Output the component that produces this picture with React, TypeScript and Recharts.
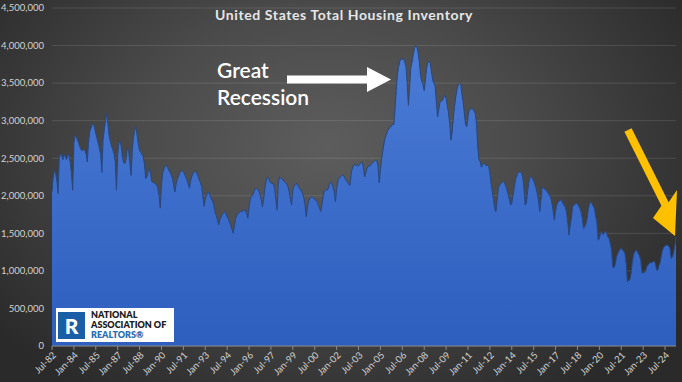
import { AreaChart, Area, XAxis, YAxis, CartesianGrid } from 'recharts';

// Existing-home inventory, thousands of homes, monthly from Jul-82 through Apr-25
const START_YEAR = 1982;
const START_MONTH = 6; // Jul

const inventory1980s = [
  2050, 2250, 2340, 2300, 2200, 2030,
  2500, 2560, 2540, 2480, 2550, 2520, 2480, 2550, 2540, 2450, 2300, 2075,
  2700, 2806, 2780, 2740, 2700, 2650, 2610, 2600, 2620, 2600, 2560, 2450,
  2700, 2850, 2900, 2940, 2970, 2900, 2830, 2760, 2700, 2630, 2550, 2310,
  2750, 2880, 3000, 3100, 2950, 2790, 2720, 2660, 2610, 2560, 2450, 2075,
  2550, 2700, 2730, 2650, 2500, 2440, 2430, 2500, 2640, 2600, 2450, 2270,
  2600, 2780, 2870, 2920, 2800, 2680, 2600, 2580, 2550, 2520, 2420, 2230,
  2250, 2320, 2370, 2300, 2190, 2180, 2170, 2160, 2140, 2100, 2000, 1835,
];

const inventory1990s = [
  2150, 2300, 2360, 2390, 2410, 2380, 2340, 2310, 2280, 2230, 2150, 2050,
  2150, 2220, 2260, 2300, 2330, 2340, 2320, 2290, 2250, 2210, 2160, 2100,
  2200, 2260, 2300, 2320, 2330, 2300, 2260, 2210, 2180, 2120, 2000, 1860,
  1950, 2010, 2040, 2050, 2000, 1960, 1930, 1880, 1790, 1740, 1680, 1610,
  1680, 1720, 1750, 1770, 1790, 1760, 1720, 1690, 1650, 1600, 1550, 1500,
  1600, 1700, 1740, 1760, 1780, 1790, 1790, 1800, 1810, 1800, 1760, 1700,
  1850, 1960, 1990, 2010, 2050, 2090, 2100, 2080, 2070, 2020, 1950, 1850,
  1950, 2100, 2200, 2250, 2240, 2190, 2170, 2165, 2160, 2100, 1950, 1810,
  2150, 2250, 2240, 2220, 2210, 2190, 2170, 2160, 2120, 2050, 1950, 1875,
  2080, 2130, 2150, 2165, 2140, 2110, 2090, 2060, 2030, 1980, 1880, 1720,
];

const inventory2000s = [
  1850, 1930, 1960, 1980, 1990, 1970, 1950, 1940, 1920, 1880, 1830, 1790,
  1900, 2000, 2070, 2080, 2075, 2090, 2150, 2185, 2170, 2120, 2050, 1920,
  2100, 2200, 2230, 2250, 2270, 2280, 2260, 2230, 2200, 2180, 2150, 2140,
  2300, 2370, 2400, 2420, 2410, 2400, 2400, 2420, 2440, 2450, 2380, 2250,
  2300, 2370, 2400, 2390, 2410, 2430, 2450, 2460, 2475, 2470, 2400, 2170,
  2350, 2500, 2600, 2700, 2780, 2820, 2870, 2890, 2910, 2930, 2950, 2950,
  3150, 3400, 3620, 3720, 3790, 3830, 3810, 3830, 3780, 3720, 3500, 3205,
  3450, 3700, 3780, 3880, 3960, 4000, 3980, 3900, 3780, 3600, 3520, 3480,
  3400, 3550, 3700, 3780, 3790, 3760, 3650, 3540, 3500, 3460, 3250, 3050,
  3150, 3250, 3260, 3270, 3310, 3340, 3300, 3200, 3100, 2950, 2740, 2850,
];

const inventory2010s = [
  3050, 3200, 3320, 3420, 3470, 3494, 3480, 3350, 3250, 3100, 2950, 2917,
  3050, 3140, 3150, 3160, 3160, 3120, 3095, 2950, 2650, 2474, 2460, 2380,
  2420, 2430, 2420, 2400, 2410, 2390, 2300, 2150, 2050, 1950, 1820, 1786,
  1950, 2100, 2141, 2160, 2185, 2190, 2170, 2130, 2080, 2020, 1950, 1875,
  1900, 2000, 2100, 2208, 2260, 2300, 2318, 2320, 2297, 2252, 2100, 1875,
  1900, 2050, 2180, 2252, 2250, 2230, 2200, 2150, 2100, 2030, 1930, 1786,
  1950, 2119, 2100, 2090, 2075, 2060, 2030, 2008, 1980, 1900, 1800, 1676,
  1800, 1880, 1919, 1930, 1942, 1940, 1900, 1875, 1850, 1780, 1650, 1476,
  1600, 1700, 1853, 1870, 1890, 1897, 1890, 1860, 1830, 1780, 1700, 1565,
  1590, 1630, 1700, 1830, 1897, 1920, 1890, 1860, 1830, 1720, 1640, 1409,
];

const inventory2020s = [
  1430, 1500, 1520, 1480, 1500, 1530, 1500, 1450, 1430, 1360, 1280, 1055,
  1040, 1080, 1180, 1230, 1260, 1290, 1299, 1280, 1260, 1230, 1100, 855,
  870, 880, 960, 1100, 1210, 1250, 1277, 1260, 1230, 1200, 1140, 967,
  980, 980, 1000, 1055, 1080, 1100, 1110, 1110, 1120, 1130, 1100, 1011,
  1010, 1070, 1110, 1210, 1277, 1320, 1330, 1343, 1343, 1330, 1300, 1166,
  1180, 1240, 1330, 1454,
];

const MONTHS = ['Jan', 'Feb', 'Mar', 'Apr', 'May', 'Jun', 'Jul', 'Aug', 'Sep', 'Oct', 'Nov', 'Dec'];
const Y_TICKS = [0, 500000, 1000000, 1500000, 2000000, 2500000, 3000000, 3500000, 4000000, 4500000];

const monthly = [...inventory1980s, ...inventory1990s, ...inventory2000s, ...inventory2010s, ...inventory2020s];

const data = monthly.map((v, i) => {
  const m = START_MONTH + i;
  const year = START_YEAR + Math.floor(m / 12);
  return {
    label: `${MONTHS[m % 12]}-${String(year).slice(2)}`,
    value: v * 1000,
  };
});

const FONT = "Lato, 'Open Sans', sans-serif";

const NarLogo = () => (
  <div
    style={{
      position: 'absolute',
      left: 56,
      top: 308,
      width: 118,
      height: 34,
      background: '#ffffff',
      fontFamily: FONT,
    }}
  >
    <svg width={27} height={27} style={{ position: 'absolute', left: 2, top: 4 }}>
      <rect x={0} y={0} width={27} height={27} fill="#1b5ea8" />
      <text x={13.5} y={21.5} textAnchor="middle" fill="#ffffff" fontSize={21} fontWeight={900} fontFamily={FONT}>
        R
      </text>
    </svg>
    <div
      style={{
        position: 'absolute',
        left: 35,
        top: 2,
        width: 82,
        fontSize: 9,
        fontWeight: 800,
        lineHeight: '9.8px',
        color: '#1c1c1c',
        whiteSpace: 'nowrap',
      }}
    >
      <div>NATIONAL</div>
      <div>ASSOCIATION OF</div>
      <div style={{ color: '#2a6db5' }}>REALTORS®</div>
    </div>
  </div>
);

const Annotations = () => (
  <svg width={682} height={382} style={{ position: 'absolute', left: 0, top: 0, pointerEvents: 'none' }}>
    <text x={344} y={20} textAnchor="middle" fill="#e6e6e6" fontSize={14} fontWeight={700} letterSpacing={0.6} fontFamily={FONT}>
      United States Total Housing Inventory
    </text>
    <text x={217} y={78} fill="#ffffff" fontSize={21} fontWeight={600} fontFamily={FONT}>
      Great
    </text>
    <text x={217} y={105} fill="#ffffff" fontSize={21} fontWeight={600} fontFamily={FONT}>
      Recession
    </text>
    <polygon points="287,75.5 367,75.5 367,67 391,79.5 367,92 367,83.5 287,83.5" fill="#ffffff" />
    <polygon
      points="631.6,128.2 668.6,202.2 677,190 675,236 653,218 661.4,205.8 624.4,131.8"
      fill="#ffc000"
    />
  </svg>
);

export default function App() {
  return (
    <div
      style={{
        position: 'absolute',
        left: 0,
        top: 0,
        width: 682,
        height: 382,
        overflow: 'hidden',
        background: 'radial-gradient(ellipse 62% 78% at 48% 38%, #5d5d5d 0%, #4b4b4b 45%, #2a2a2a 100%)',
        fontFamily: FONT,
      }}
    >
      <AreaChart width={682} height={382} data={data} margin={{ top: 8, right: 6, bottom: 0, left: 0 }}>
        <defs>
          <linearGradient id="invFill" x1="0" y1="0" x2="0" y2="1">
            <stop offset="0%" stopColor="#4b7cd6" />
            <stop offset="100%" stopColor="#2e5ebe" />
          </linearGradient>
        </defs>
        <CartesianGrid vertical={false} stroke="#ffffff" strokeOpacity={0.12} />
        <XAxis
          dataKey="label"
          interval={17}
          angle={-45}
          textAnchor="end"
          height={36}
          tickSize={4}
          tickMargin={1}
          tick={{ fill: '#d2d2d2', fontSize: 9.5, fontFamily: FONT }}
          tickLine={{ stroke: '#8a8a8a' }}
          axisLine={{ stroke: '#8a8a8a' }}
        />
        <YAxis
          domain={[0, 4500000]}
          ticks={Y_TICKS}
          interval={0}
          width={52}
          tickSize={6}
          tickMargin={2}
          axisLine={false}
          tickLine={false}
          tickFormatter={(v: number) => v.toLocaleString('en-US')}
          tick={{ fill: '#d2d2d2', fontSize: 9.5, fontFamily: FONT }}
        />
        <Area
          type="linear"
          dataKey="value"
          stroke="#27477f"
          strokeWidth={1}
          fill="url(#invFill)"
          fillOpacity={1}
          dot={false}
          activeDot={false}
          isAnimationActive={false}
        />
      </AreaChart>
      <NarLogo />
      <Annotations />
    </div>
  );
}
